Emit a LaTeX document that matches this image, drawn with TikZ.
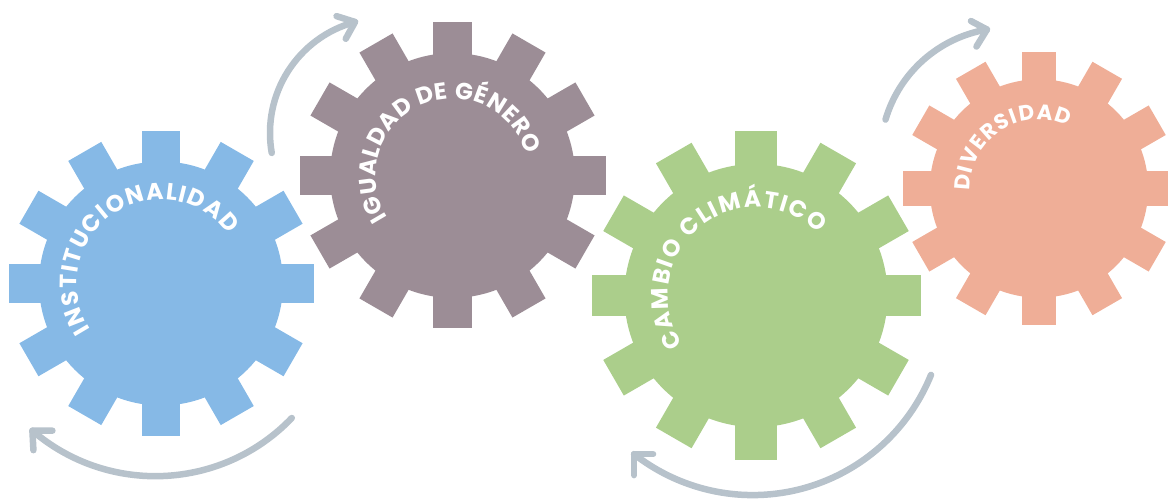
\documentclass[tikz,border=0pt]{standalone}
\usepackage{fontspec}
\newfontfamily\pop{Poppins}
\usetikzlibrary{decorations.text,calc}
\definecolor{gblue}{HTML}{86B9E6}
\definecolor{gpurple}{HTML}{9C8D96}
\definecolor{ggreen}{HTML}{ABCE8B}
\definecolor{gsalmon}{HTML}{EFAE97}
\definecolor{agray}{HTML}{B7C2CB}
\newcommand\gtext[1]{\pop\bfseries\fontsize{#1}{#1}\selectfont\color{white}}
\newcommand\drawgear[3]{%
  \begin{scope}[shift={(#1)}, scale=#2]
    \fill[#3] (0,0) circle[radius=0.8pt];
    \foreach \a in {0,30,...,330}{\fill[#3, rotate=\a] (-0.125,0) rectangle (0.125,1);}
  \end{scope}}
\tikzset{
  arrowline/.style={draw=agray, line width=6.5pt, line cap=round, line join=round},
  geartext/.style 2 args={decorate, decoration={text along path, text align={fit to path}, text={|\gtext{#1}|#2}}}
}
\begin{document}
\begin{tikzpicture}[x=1pt,y=1pt]
\useasboundingbox (0,0) rectangle (1168,502);
\clip (0,0) rectangle (1168,502);
\coordinate (b) at (161,218.5);
\coordinate (p) at (452.5,326.5);
\coordinate (g) at (756,206.5);
\coordinate (s) at (1039,313.5);
\drawgear{b}{152.5}{gblue}
\drawgear{p}{153}{gpurple}
\drawgear{g}{164.5}{ggreen}
\drawgear{s}{136.5}{gsalmon}
% texts
\path[geartext={23.5}{INSTITUCIONALIDAD}] ($(b)+(213:84)$) arc[start angle=213, end angle=36, radius=84pt];
\path[geartext={23.5}{IGUALDAD DE GÉNERO}] ($(p)+(213:77)$) arc[start angle=213, end angle=16, radius=77pt];
\path[geartext={23.5}{CAMBIO CLIMÁTICO}] ($(g)+(214:88)$) arc[start angle=214, end angle=45, radius=88pt];
\path[geartext={21.5}{DIVERSIDAD}] ($(s)+(182:69)$) arc[start angle=182, end angle=65, radius=69pt];
% arrows
\coordinate (c1) at (385,369);
\coordinate (c2) at (155.4,214.8);
\coordinate (c3) at (1008.3,346.25);
\coordinate (c4) at (752.7,199.2);
\draw[arrowline] ($(c1)+(190:115)$) arc[start angle=190, end angle=105.1, radius=115pt] coordinate (t1);
\draw[arrowline] ($(t1)+(-18.5,5.8)$) -- (t1) -- ++(-9.3,-16.8);
\draw[arrowline] ($(c2)+(-43.8:189)$) arc[start angle=-43.8, end angle=-130.6, radius=189pt] coordinate (t2);
\draw[arrowline] ($(t2)+(20,0)$) -- (t2) -- ++(1,-19.5);
\draw[arrowline] ($(c3)+(163.6:128)$) arc[start angle=163.6, end angle=99.6, radius=128pt] coordinate (t3);
\draw[arrowline] ($(t3)+(-16,8.5)$) -- (t3) -- ++(-10.5,-17);
\draw[arrowline] ($(c4)+(-22:192.3)$) arc[start angle=-22, end angle=-128.1, radius=192.3pt] coordinate (t4);
\draw[arrowline] ($(t4)+(19,0)$) -- (t4) -- ++(0,-21);
\end{tikzpicture}
\end{document}
